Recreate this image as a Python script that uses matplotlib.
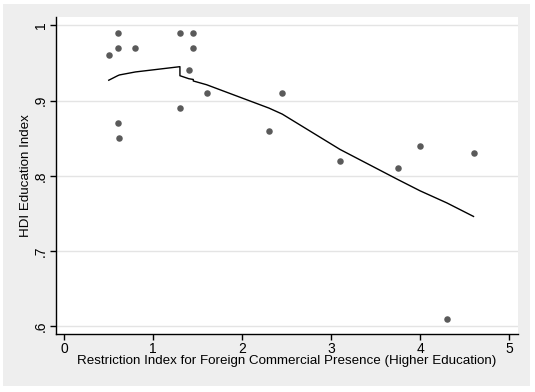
import numpy as np
import matplotlib.pyplot as plt
from matplotlib.patches import Rectangle

plt.rcParams['font.family'] = ['Liberation Sans', 'DejaVu Sans']

# observed points
restr = [0.5, 0.6, 0.6, 0.6, 0.62, 0.8, 1.3, 1.3, 1.4, 1.45, 1.45, 1.6,
         2.3, 2.45, 3.1, 3.75, 4.0, 4.3, 4.6]
hdi = [0.96, 0.99, 0.97, 0.87, 0.85, 0.97, 0.99, 0.89, 0.94, 0.99, 0.97, 0.91,
       0.86, 0.91, 0.82, 0.81, 0.84, 0.61, 0.83]

# lowess smooth
fit_x = [0.5, 0.6, 0.62, 0.8, 1.3, 1.3, 1.4, 1.45, 1.45, 1.6,
         2.3, 2.45, 3.1, 3.75, 4.0, 4.3, 4.6]
fit_y = [0.927, 0.933, 0.934, 0.938, 0.945, 0.933, 0.929, 0.928, 0.926, 0.921,
         0.890, 0.882, 0.835, 0.795, 0.780, 0.764, 0.746]

fig = plt.figure(figsize=(5.35, 3.92), dpi=100, facecolor='white')
fig.patches.append(Rectangle((3/535, 6/392), 527/535, 382/392, transform=fig.transFigure,
                             facecolor='#eeeeee', edgecolor='none', zorder=-10))

ax = fig.add_axes([56/535, 58/392, 462/535, 317/392])
ax.set_facecolor('white')

ax.plot(fit_x, fit_y, color='black', lw=1, zorder=3)
ax.scatter(restr, hdi, s=22, color='#5a5a5a', zorder=4, linewidths=0)

ax.set_xlim(-0.093, 5.10)
ax.set_ylim(0.5898, 1.011)
ax.set_xticks([0, 1, 2, 3, 4, 5])
ax.set_xticklabels(['0', '1', '2', '3', '4', '5'])
ax.set_yticks([0.6, 0.7, 0.8, 0.9, 1.0])
ax.set_yticklabels(['.6', '.7', '.8', '.9', '1'], rotation=90, va='center')
ax.grid(True, axis='y', color='#e4e4e4', lw=1)
ax.set_axisbelow(True)

for s in ['top', 'right']:
    ax.spines[s].set_visible(False)
for s in ['left', 'bottom']:
    ax.spines[s].set_color('black')
    ax.spines[s].set_linewidth(1)

ax.tick_params(direction='out', length=4, width=1, colors='black', labelsize=10, pad=2)
ax.set_xlabel('Restriction Index for Foreign Commercial Presence (Higher Education)',
              fontsize=9.6, labelpad=-1)
ax.set_ylabel('HDI Education Index', fontsize=9.6, labelpad=1)

fig.savefig('out.png', dpi=100, facecolor='white')
